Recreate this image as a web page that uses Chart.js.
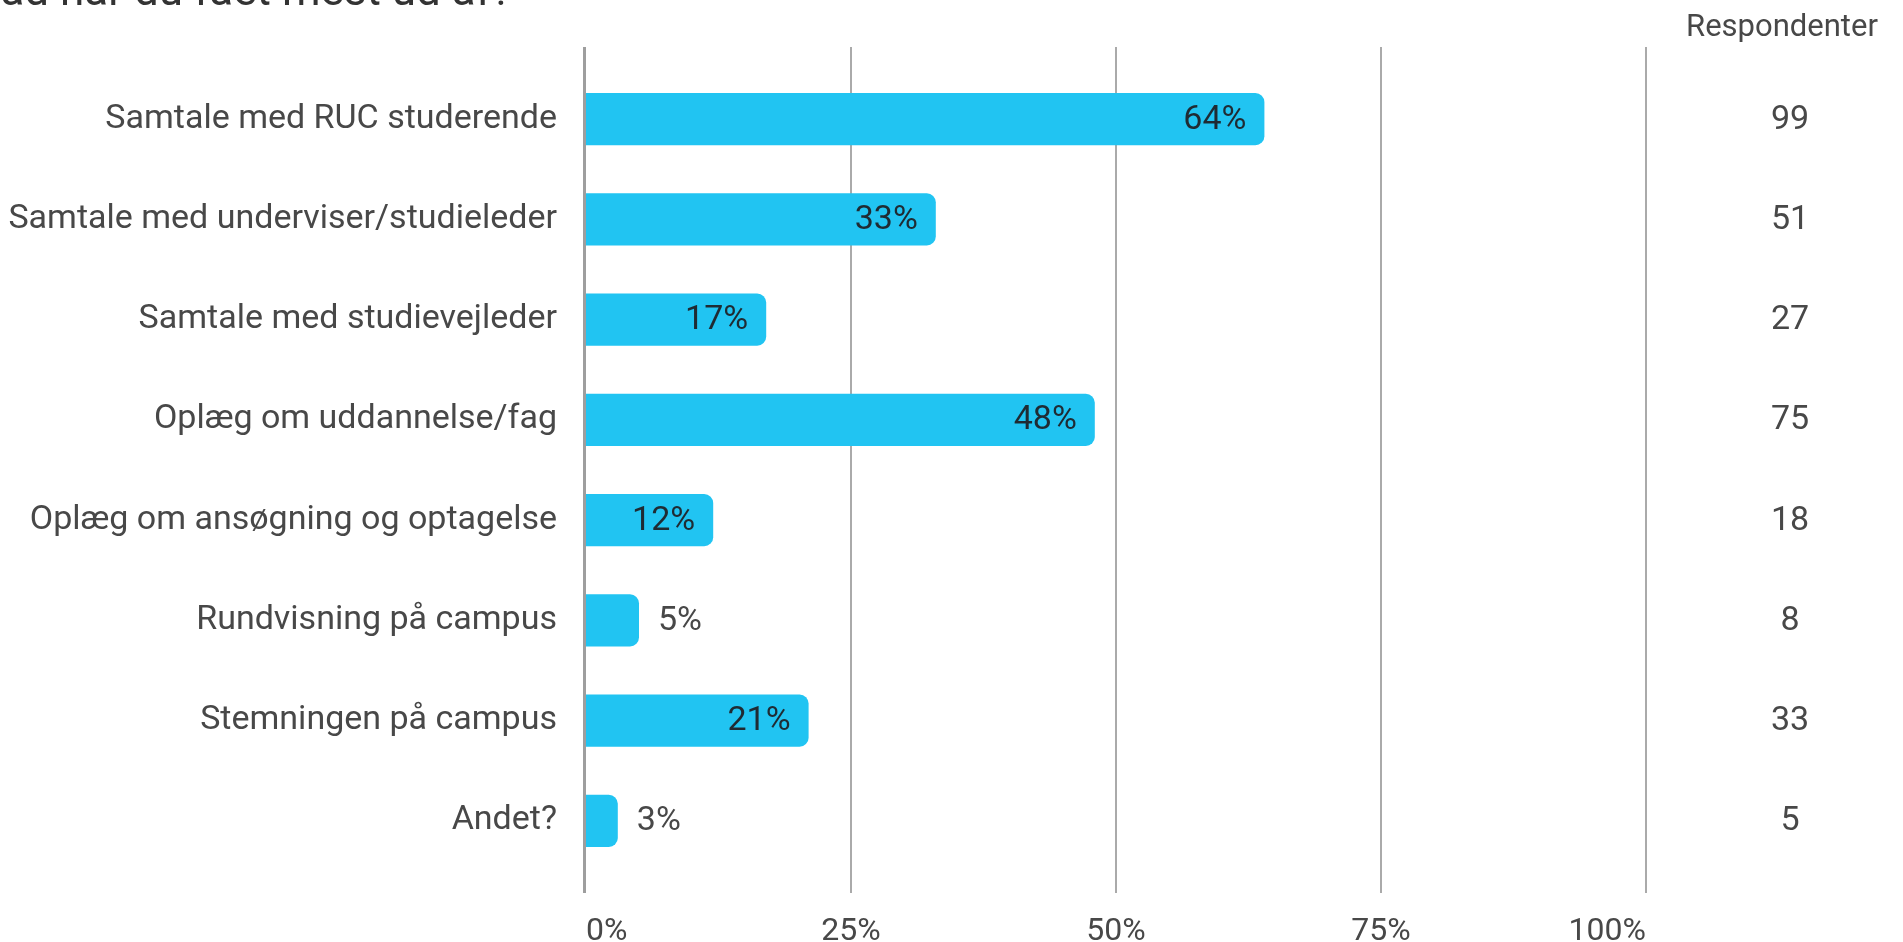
<!DOCTYPE html>
<html lang="da">
<head>
<meta charset="UTF-8">
<title>Hvad har du fået mest ud af?</title>
<script src="https://cdn.jsdelivr.net/npm/chart.js@4.4.1/dist/chart.umd.min.js"></script>
<style>
  html, body { margin: 0; padding: 0; background: #fff; overflow: hidden; }
  #wrap { position: relative; width: 1903px; height: 942px; }
</style>
</head>
<body>
<div id="wrap"><canvas id="chart"></canvas></div>
<script>
// Spørgsmål, svarkategorier og resultater
const titel = "Hvad har du fået mest ud af?";
const kategorier = [
    "Samtale med RUC studerende",
    "Samtale med underviser/studieleder",
    "Samtale med studievejleder",
    "Oplæg om uddannelse/fag",
    "Oplæg om ansøgning og optagelse",
    "Rundvisning på campus",
    "Stemningen på campus",
    "Andet?"
];
const andele = [64, 33, 17, 48, 12, 5, 21, 3];          // procent
const respondenter = [99, 51, 27, 75, 18, 8, 33, 5];    // antal svar
const xTicks = [0, 25, 50, 75, 100];

const FONT = "Roboto";
const BAR_COLOR = "#21c4f2";
const TEXT_GREY = "#484848";
const TEXT_DARK = "#1f2b33";

// lodrette hjælpelinjer, lidt længere end selve plotområdet
const gridLines = {
    id: "gridLines",
    beforeDatasetsDraw(chart) {
        const { ctx, chartArea, scales: { x } } = chart;
        ctx.save();
        ctx.strokeStyle = "#aaaaaa";
        ctx.lineWidth = 2;
        xTicks.slice(1).forEach(v => {
            const px = Math.round(x.getPixelForValue(v));
            ctx.beginPath();
            ctx.moveTo(px, chartArea.top - 22);
            ctx.lineTo(px, chartArea.bottom + 22);
            ctx.stroke();
        });
        ctx.restore();
    },
    afterDatasetsDraw(chart) {
        // nul-linjen tegnes oven på søjlerne
        const { ctx, chartArea, scales: { x } } = chart;
        const px = Math.round(x.getPixelForValue(0)) - 1.5;
        ctx.save();
        ctx.strokeStyle = "#9e9e9e";
        ctx.lineWidth = 3;
        ctx.beginPath();
        ctx.moveTo(px, chartArea.top - 22);
        ctx.lineTo(px, chartArea.bottom + 22);
        ctx.stroke();
        ctx.restore();
    }
};

// procenttal på/ved søjlerne + kolonnen med respondenter
const labels = {
    id: "labels",
    afterDraw(chart) {
        const { ctx, chartArea, scales: { y } } = chart;
        const meta = chart.getDatasetMeta(0);
        ctx.save();
        ctx.textBaseline = "middle";
        ctx.font = "34px " + FONT;
        meta.data.forEach((bar, i) => {
            const tekst = andele[i] + "%";
            const bredde = bar.x - bar.base;
            if (bredde > 90) {
                ctx.fillStyle = TEXT_DARK;
                ctx.textAlign = "right";
                ctx.fillText(tekst, bar.x - 18, bar.y + 1);
            } else {
                ctx.fillStyle = TEXT_GREY;
                ctx.textAlign = "left";
                ctx.fillText(tekst, bar.x + 19, bar.y + 1);
            }
        });

        const kolonneX = chartArea.right + 144;
        ctx.fillStyle = TEXT_GREY;
        ctx.textAlign = "center";
        respondenter.forEach((n, i) => {
            ctx.fillText(String(n), kolonneX, y.getPixelForValue(i) + 1);
        });
        ctx.font = "31px " + FONT;
        ctx.fillText("Respondenter", kolonneX - 8, 28);

        // overskriften ligger delvist uden for billedet
        ctx.font = "44px " + FONT;
        ctx.fillStyle = "#333333";
        ctx.textAlign = "left";
        ctx.textBaseline = "alphabetic";
        ctx.fillText(titel, -52, 5);
        ctx.restore();
    }
};

const ctx = document.getElementById("chart").getContext("2d");
const chart = new Chart(ctx, {
    type: "bar",
    data: {
        labels: kategorier,
        datasets: [{
            data: andele,
            backgroundColor: BAR_COLOR,
            borderRadius: 9,
            borderSkipped: "start",
            barPercentage: 0.52,
            categoryPercentage: 1.0
        }]
    },
    options: {
        indexAxis: "y",
        responsive: true,
        maintainAspectRatio: false,
        animation: false,
        events: [],
        layout: { padding: { top: 69, right: 257, left: 0, bottom: 0 } },
        plugins: {
            legend: { display: false },
            tooltip: { enabled: false }
        },
        scales: {
            x: {
                min: 0,
                max: 100,
                grid: { display: false, drawTicks: false },
                border: { display: false },
                ticks: {
                    stepSize: 25,
                    padding: 42,
                    align: "inner",
                    color: TEXT_GREY,
                    font: { family: FONT, size: 32 },
                    maxRotation: 0,
                    callback: v => v + "%"
                },
                afterFit: s => { s.height = 71; }
            },
            y: {
                grid: { display: false, drawTicks: false },
                border: { display: false },
                ticks: {
                    padding: 29,
                    color: TEXT_GREY,
                    font: { family: FONT, size: 34 }
                },
                afterFit: s => { s.width = 586; }
            }
        }
    },
    plugins: [gridLines, labels]
});
</script>
</body>
</html>
